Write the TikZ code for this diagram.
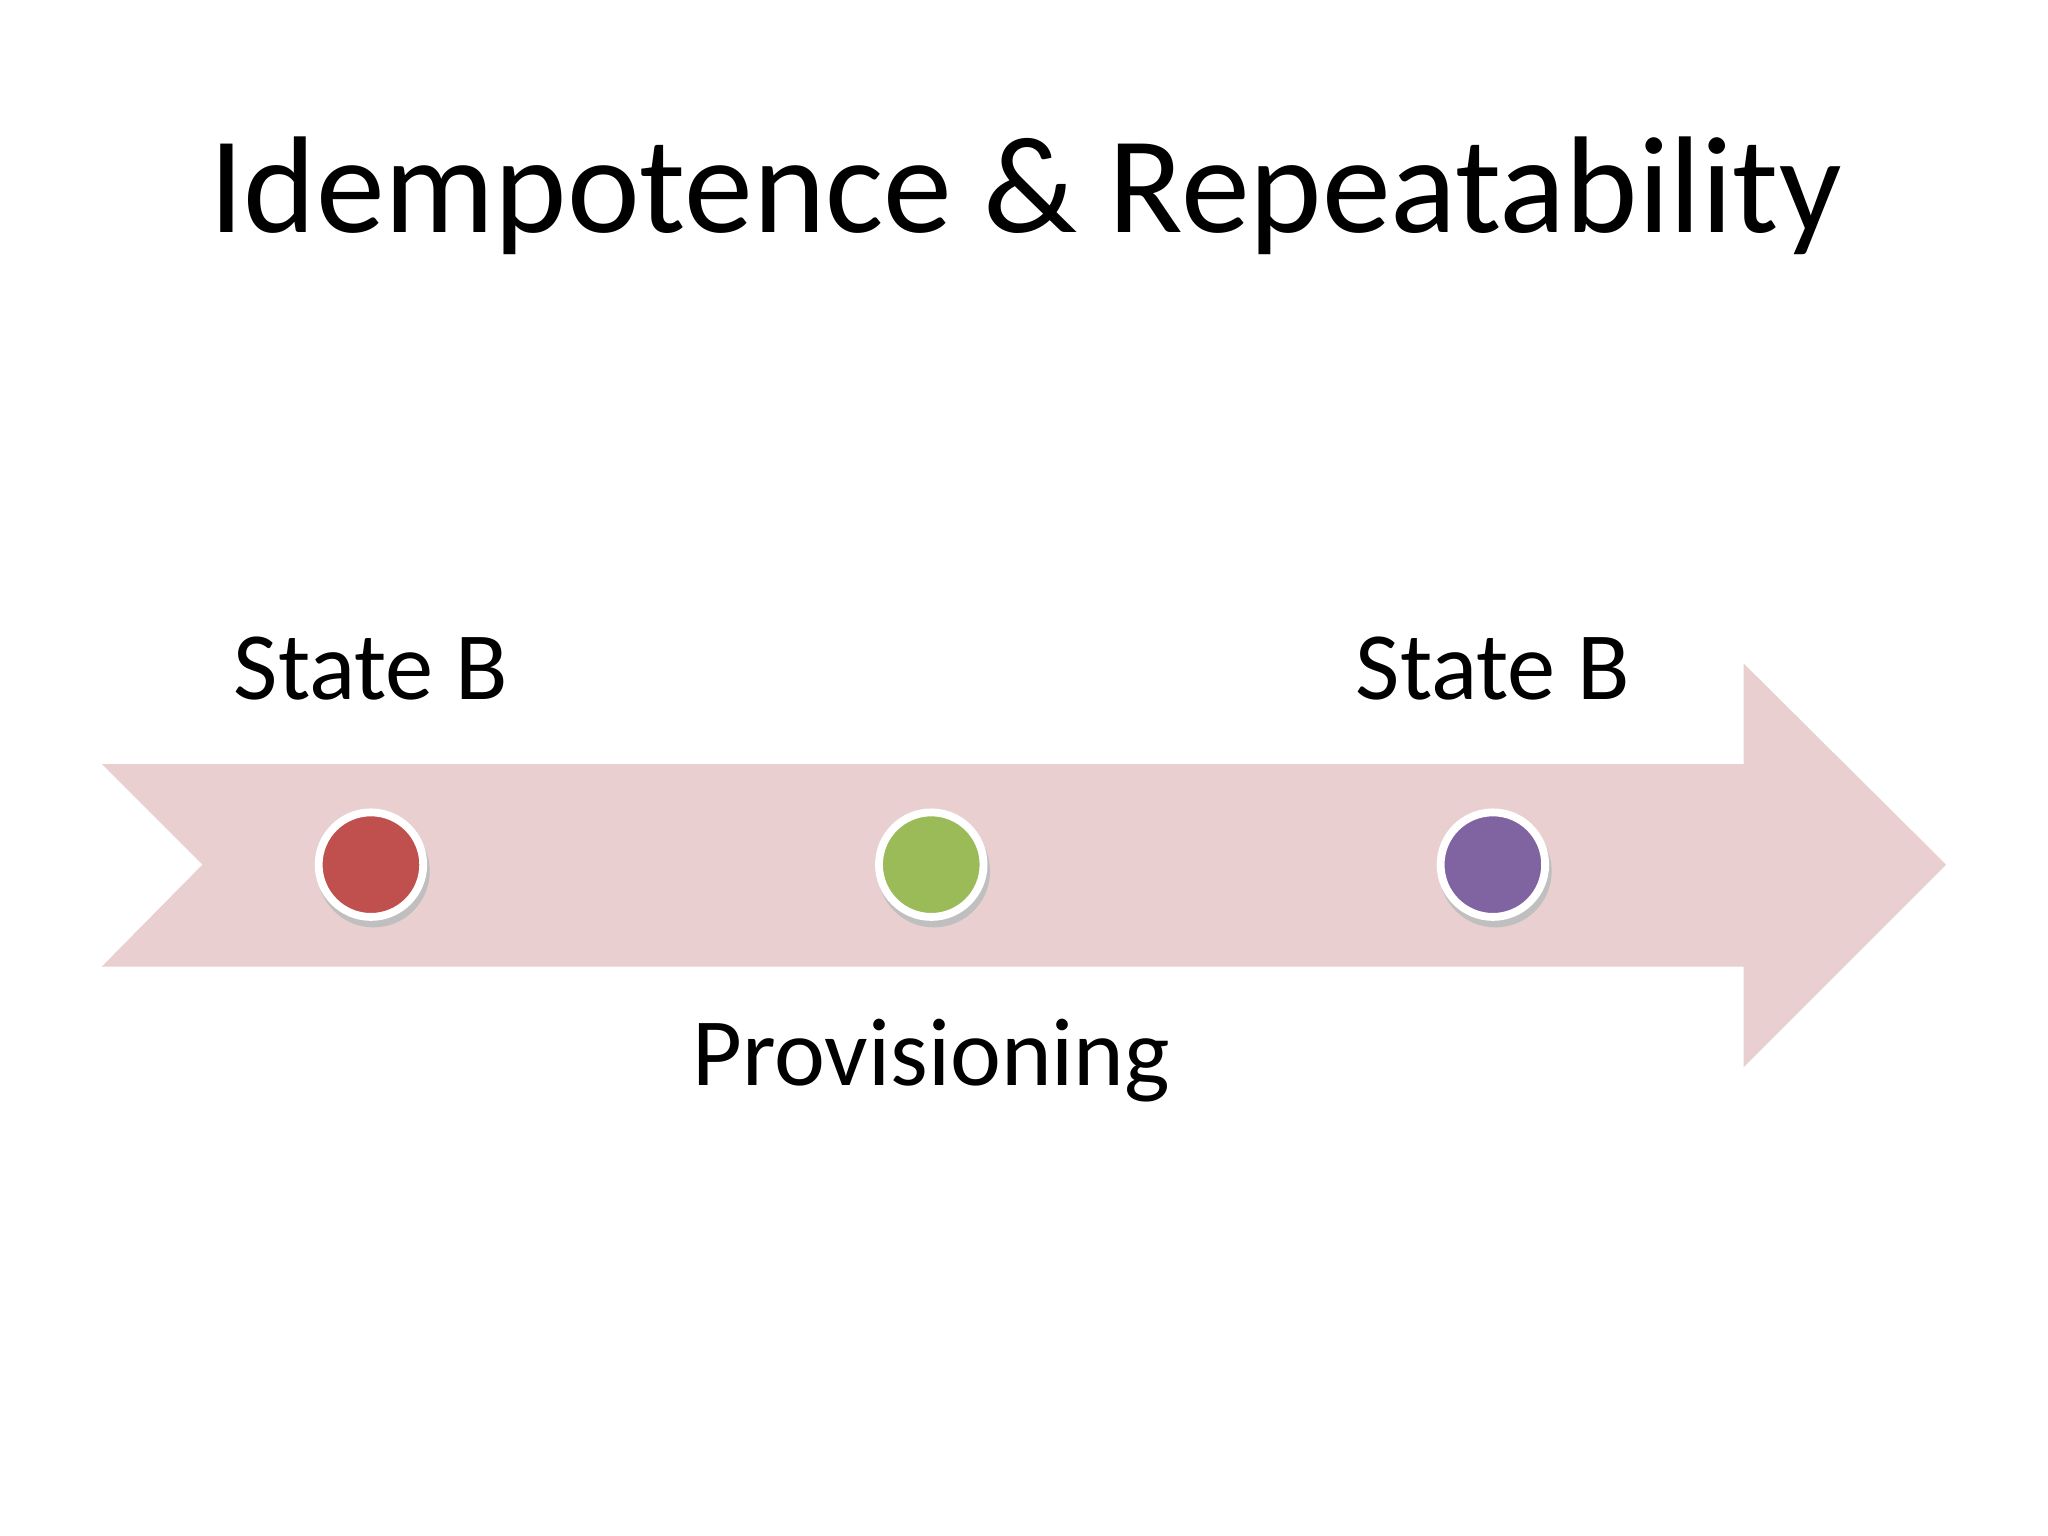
\documentclass[tikz,border=0pt]{standalone}
\usepackage{fontspec}
\setmainfont{Carlito}
\definecolor{arrowpink}{HTML}{E9CFD0}
\definecolor{dotred}{HTML}{C0504D}
\definecolor{dotgreen}{HTML}{9BBB59}
\definecolor{dotpurple}{HTML}{8064A2}
\begin{document}
\begin{tikzpicture}[x=0.01cm,y=-0.01cm,
  dot/.style={circle,draw=white,line width=0.06cm,minimum size=0.8cm,inner sep=0pt},
  lbl/.style={font=\fontsize{21pt}{25pt}\selectfont,inner sep=0pt}]
\useasboundingbox (0,0) rectangle (1568,1176);
\fill[white] (0,0) rectangle (1568,1176);
\node[font=\fontsize{30pt}{36pt}\selectfont,inner sep=0pt] (title) at (785,150) {Idempotence \& Repeatability};
\fill[arrowpink] (78,585) -- (1335,585) -- (1335,508) -- (1490,662) -- (1335,817) -- (1335,740) -- (78,740) -- (155,662) -- cycle;
\foreach \x/\c/\n in {284/dotred/a,713/dotgreen/b,1143/dotpurple/c}{
  \fill[black!25] (\x+2,667) circle (0.43cm);
  \node[dot,fill=\c] (\n) at (\x,662) {};
}
\node[lbl] (s1) at (284,512) {State B};
\node[lbl] (s2) at (1143,512) {State B};
\node[lbl] (p) at (713,812) {Provisioning};
\end{tikzpicture}
\end{document}
